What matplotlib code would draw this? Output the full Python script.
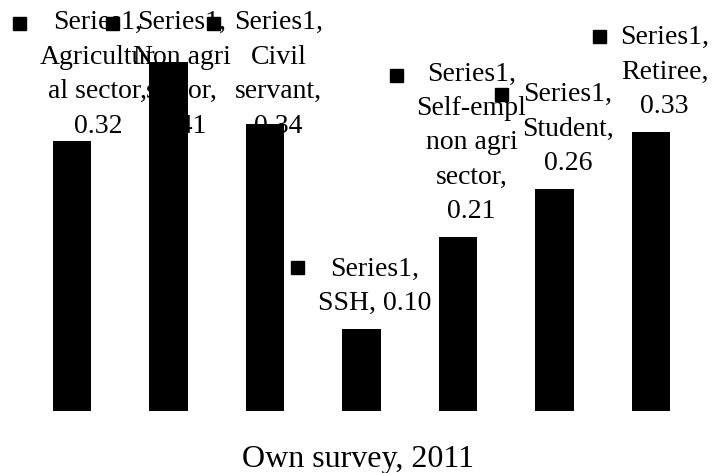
import matplotlib
matplotlib.use("Agg")
import matplotlib.pyplot as plt
from matplotlib.patches import Rectangle
from matplotlib.transforms import IdentityTransform

# data
categories = ["Agricultur\nal sector", "Non agri\nsector", "Civil\nservant", "SSH",
              "Self-empl\nnon agri\nsector", "Student", "Retiree"]
values = [0.320, 0.414, 0.340, 0.097, 0.206, 0.263, 0.331]
value_breaks = ["\n", "\n", "\n", " ", "\n", "\n", "\n"]
series_name = "Series1"
source_note = "Own survey, 2011"

plt.rcParams['font.family'] = ['Liberation Serif', 'DejaVu Serif']

W, H = 712, 473
fig = plt.figure(figsize=(W / 100, H / 100), dpi=100)
ax = fig.add_axes([0, 62 / H, 1, 411 / H])
x = list(range(len(values)))
ax.bar(x, values, width=0.394, color='black')
ax.set_xlim(-0.746, 6.632)
ax.set_ylim(0, 0.4873)
ax.axis('off')

fig.canvas.draw()
renderer = fig.canvas.get_renderer()

# data label layout (pixels, measured from top)
key = 13
gap = 14
line_h = 33.5
cap_half = 9.2
top_min = 23
left_min, right_max = 13, 710

for i, (cat, v, br) in enumerate(zip(categories, values, value_breaks)):
    label = f"{series_name},\n{cat},{br}{v:.2f}"
    n = label.count("\n") + 1
    bx, by = ax.transData.transform((i, v))
    bar_top = H - by
    c = max(top_min, bar_top - 28 - (n - 1) * line_h)
    last_base = c + cap_half + (n - 1) * line_h
    t = fig.text(0, 0, label, ha='center', va='baseline', multialignment='center',
                 fontsize=20, linespacing=1.5, transform=IdentityTransform())
    w = t.get_window_extent(renderer).width
    block_w = key + gap + w
    block_left = bx - block_w / 2
    block_left = min(max(block_left, left_min), right_max - block_w)
    tx = block_left + key + gap + w / 2
    t.set_position((tx, H - last_base))
    fig.add_artist(Rectangle((block_left, H - c - key / 2), key, key, color='black',
                             transform=IdentityTransform()))

fig.text(358 / W, 6 / H, source_note, ha='center', va='baseline', fontsize=23)

fig.savefig('out.png', dpi=100)
